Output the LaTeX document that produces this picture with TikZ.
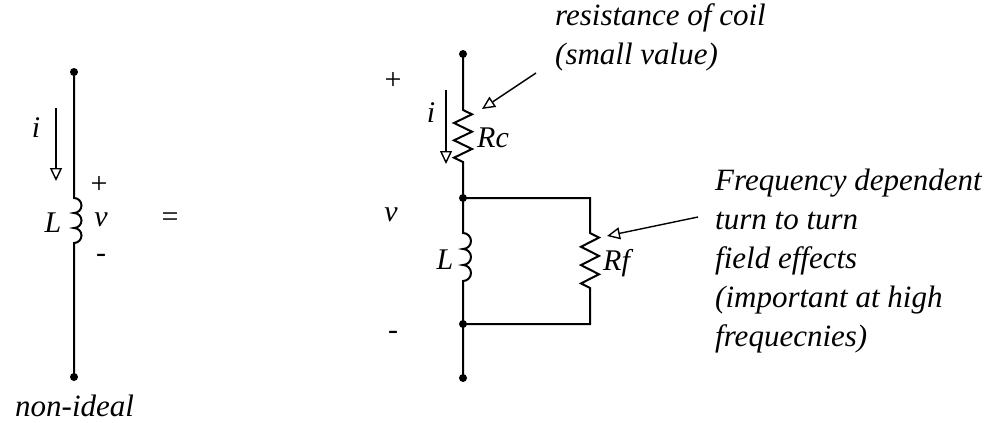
\documentclass[tikz,border=0pt]{standalone}
\usepackage{fontspec}
\setmainfont{Liberation Serif}
\usetikzlibrary{arrows.meta}
\begin{document}
\begin{tikzpicture}[x=1pt,y=-1pt,
  wire/.style={line width=2pt},
  dotc/.style={circle,fill,inner sep=0pt,minimum size=8pt},
  lbl/.style={font=\fontsize{30}{36}\selectfont\itshape, inner sep=0pt},
  sgn/.style={font=\fontsize{30}{36}\selectfont, inner sep=0pt},
  note/.style={font=\fontsize{31}{39}\selectfont\itshape, inner sep=0pt, align=left, anchor=base west},
  curarrow/.style={line width=1.4pt, -{Triangle[open,length=13pt,width=12pt,line width=1.4pt]}}]
\useasboundingbox (0,0) rectangle (999,423);
% ---------- left: ideal inductor ----------
\node[dotc] (lt) at (74,72) {};
\node[dotc] (lb) at (74,377) {};
\coordinate (lc1) at (74,198);
\draw[wire] (lt.center) -- (lc1)
  arc[start angle=-90,end angle=90,radius=7.5]
  arc[start angle=-90,end angle=90,radius=7.5]
  arc[start angle=-90,end angle=90,radius=7.5] -- (lb.center);
\coordinate (lia) at (56,108);
\coordinate (lib) at (56,181);
\draw[curarrow] (lia) -- (lib);
\node[lbl] (li) at (36,128) {i};
\node[lbl] (lL) at (53,223) {L};
\node[sgn] (lp) at (99,185) {+};
\node[lbl] (lv) at (101,220) {v};
\node[sgn] (lm) at (101,258) {-};
\node[sgn] (eq) at (170,220) {=};
\node[note] (ni) at (15,416) {non-ideal};
% ---------- right: model ----------
\node[dotc] (rt) at (463,54) {};
\node[dotc] (rb) at (463,378) {};
\node[dotc] (n1) at (463,198) {};
\node[dotc] (n2) at (463,324) {};
\coordinate (c1) at (590,198);
\coordinate (c2) at (590,324);
% Rc
\draw[wire] (rt.center) -- (463,110) -- (472,114.3) -- (454,123) -- (472,131.7) -- (454,140.3)
  -- (472,149) -- (454,157.7) -- (463,162) -- (n1.center);
% L
\draw[wire] (n1.center) -- (463,233)
  arc[start angle=-90,end angle=90,radius=8]
  arc[start angle=-90,end angle=90,radius=8]
  arc[start angle=-90,end angle=90,radius=8] -- (n2.center) -- (rb.center);
% Rf
\draw[wire] (n1.center) -- (c1) -- (590,233) -- (599,237.6) -- (581,246.8) -- (599,255.9) -- (581,265.1)
  -- (599,274.3) -- (581,283.4) -- (590,288) -- (c2) -- (n2.center);
\coordinate (ria) at (446,90);
\coordinate (rib) at (446,164);
\draw[curarrow] (ria) -- (rib);
\node[lbl] (ri) at (431,113) {i};
\node[lbl, anchor=west] (Rc) at (477,138) {Rc};
\node[lbl] (rL) at (445,260) {L};
\node[lbl, anchor=west] (Rf) at (603,263) {Rf};
\node[sgn] (rp) at (393,81) {+};
\node[lbl] (rv) at (391,215) {v};
\node[sgn] (rm) at (393,335) {-};
% annotations
\node[note] (t1) at (555,64) {resistance of coil\\(small value)};
\node[note] (t2) at (715,346) {Frequency dependent\\turn to turn\\field effects\\(important at high\\frequecnies)};
\coordinate (a1s) at (536,73);
\coordinate (a1e) at (482,109);
\draw[curarrow] (a1s) -- (a1e);
\coordinate (a2s) at (698,217);
\coordinate (a2e) at (607,236);
\draw[curarrow] (a2s) -- (a2e);
\end{tikzpicture}
\end{document}
